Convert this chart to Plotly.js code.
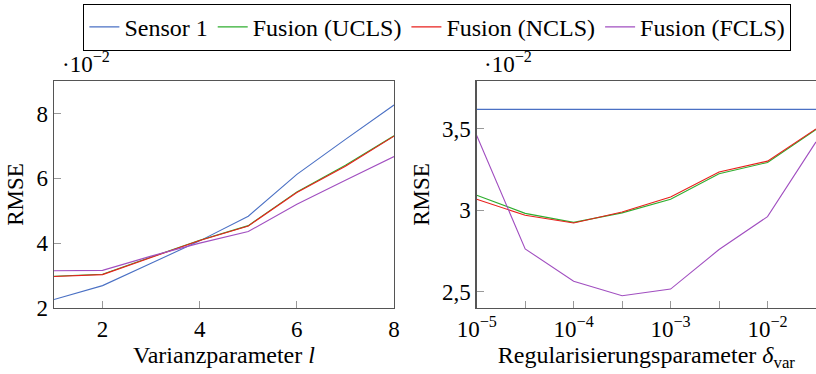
<!DOCTYPE html>
<html><head><meta charset="utf-8">
<script src="https://cdn.plot.ly/plotly-3.0.1.min.js"></script>
<style>html,body{margin:0;padding:0;background:#fff}#chart{width:816px;height:374px}</style>
</head><body><div id="chart"></div>
<script>
// Left panel: RMSE (·10^-2) vs. Varianzparameter l
const varParam = [1, 2, 3, 4, 5, 6, 7, 8];
const leftSensor1 = [2.26, 2.69, 3.38, 4.07, 4.83, 6.12, 7.20, 8.26];
const leftUCLS   = [2.98, 3.04, 3.57, 4.09, 4.54, 5.58, 6.40, 7.31];
const leftNCLS   = [2.97, 3.03, 3.56, 4.08, 4.53, 5.56, 6.37, 7.30];
const leftFCLS   = [3.15, 3.16, 3.60, 4.00, 4.36, 5.20, 5.94, 6.67];

// Right panel: RMSE (·10^-2) vs. Regularisierungsparameter delta_var
const deltaVar = [1e-5, 3.162e-5, 1e-4, 3.162e-4, 1e-3, 3.162e-3, 1e-2, 3.162e-2];
const rightSensor1 = [3.62, 3.62, 3.62, 3.62, 3.62, 3.62, 3.62, 3.62];
const rightUCLS   = [3.093, 2.981, 2.926, 2.984, 3.068, 3.224, 3.294, 3.496];
const rightNCLS   = [3.068, 2.969, 2.922, 2.990, 3.082, 3.235, 3.302, 3.500];
const rightFCLS   = [3.459, 2.763, 2.564, 2.475, 2.516, 2.759, 2.961, 3.42];

const seriesNames = ['Sensor 1', 'Fusion (UCLS)', 'Fusion (NCLS)', 'Fusion (FCLS)'];
const seriesColors = ['#4a70c4', '#2fae2f', '#e8201c', '#a14fc0'];

const leftTickVals = [2, 4, 6, 8];
const leftYTickVals = [2, 4, 6, 8];
const rightTickVals = [1e-5, 3.162e-5, 1e-4, 3.162e-4, 1e-3, 3.162e-3, 1e-2, 3.162e-2];
const rightTickText = ['10<sup>−5</sup>', '', '10<sup>−4</sup>', '', '10<sup>−3</sup>', '', '10<sup>−2</sup>', ''];
const rightYTickVals = [2.5, 3, 3.5];
const rightYTickText = ['2,5', '3', '3,5'];

const FONT = '"Liberation Serif", serif';
const leftSets = [leftSensor1, leftUCLS, leftNCLS, leftFCLS];
const rightSets = [rightSensor1, rightUCLS, rightNCLS, rightFCLS];
const traces = [];
leftSets.forEach((ys, i) => traces.push({
  x: varParam, y: ys, type: 'scatter', mode: 'lines', name: seriesNames[i],
  line: {color: seriesColors[i], width: 1.1}, xaxis: 'x', yaxis: 'y', showlegend: true
}));
rightSets.forEach((ys, i) => traces.push({
  x: deltaVar, y: ys, type: 'scatter', mode: 'lines', name: seriesNames[i],
  line: {color: seriesColors[i], width: 1.1}, xaxis: 'x2', yaxis: 'y2', showlegend: false
}));

const TS = 23;
const axisCommon = {
  showgrid: false, zeroline: false, showline: true, linecolor: '#555', linewidth: 1.3,
  ticks: 'inside', ticklen: 7, tickcolor: '#999', tickwidth: 1,
  tickfont: {family: FONT, size: TS, color: '#000'}
};
const yDom = [0.1765, 0.7834];
const layout = {
  width: 816, height: 374,
  margin: {l: 0, r: 0, t: 0, b: 0},
  paper_bgcolor: '#fff', plot_bgcolor: '#fff',
  font: {family: FONT, size: TS, color: '#000'},
  showlegend: true,
  legend: {
    orientation: 'h', x: 0.536, xanchor: 'center', y: 0.99, yanchor: 'top',
    bordercolor: '#000', borderwidth: 1, font: {family: FONT, size: 24, color: '#000'},
    tracegroupgap: 0
  },
  xaxis: Object.assign({}, axisCommon, {
    domain: [54/816, 394/816], range: [1, 8], tickvals: leftTickVals, mirror: true,
    anchor: 'y', title: {text: 'Varianzparameter <i>l</i>', font: {family: FONT, size: 24}, standoff: 2}
  }),
  yaxis: Object.assign({}, axisCommon, {
    domain: yDom, range: [2, 9], tickvals: leftYTickVals, mirror: true, anchor: 'x',
    title: {text: 'RMSE', font: {family: FONT, size: 23}, standoff: 6}
  }),
  xaxis2: Object.assign({}, axisCommon, {
    domain: [476.7/816, 1], type: 'log', range: [-5, -1.5], tickvals: rightTickVals,
    ticktext: rightTickText, mirror: true, anchor: 'y2',
    title: {text: 'Regularisierungsparameter <i>δ</i><sub>var</sub>', font: {family: FONT, size: 24}, standoff: 2}
  }),
  yaxis2: Object.assign({}, axisCommon, {
    domain: yDom, range: [2.4, 3.794], tickvals: rightYTickVals, ticktext: rightYTickText,
    mirror: false, anchor: 'x2',
    title: {text: 'RMSE', font: {family: FONT, size: 23}, standoff: 6}
  }),
  yaxis3: Object.assign({}, axisCommon, {
    domain: yDom, range: [2.4, 3.794], tickvals: rightYTickVals, showticklabels: false,
    showline: false, overlaying: 'y2', side: 'right', anchor: 'x2'
  }),
  annotations: [
    {xref: 'paper', yref: 'paper', x: 60/816, y: (374-62)/374, xanchor: 'left', yanchor: 'middle',
     text: '·10<sup>−2</sup>', showarrow: false, font: {family: FONT, size: 23}},
    {xref: 'paper', yref: 'paper', x: 482/816, y: (374-62)/374, xanchor: 'left', yanchor: 'middle',
     text: '·10<sup>−2</sup>', showarrow: false, font: {family: FONT, size: 23}}
  ]
};
Plotly.newPlot('chart', traces, layout, {staticPlot: true, displayModeBar: false});
</script></body></html>
